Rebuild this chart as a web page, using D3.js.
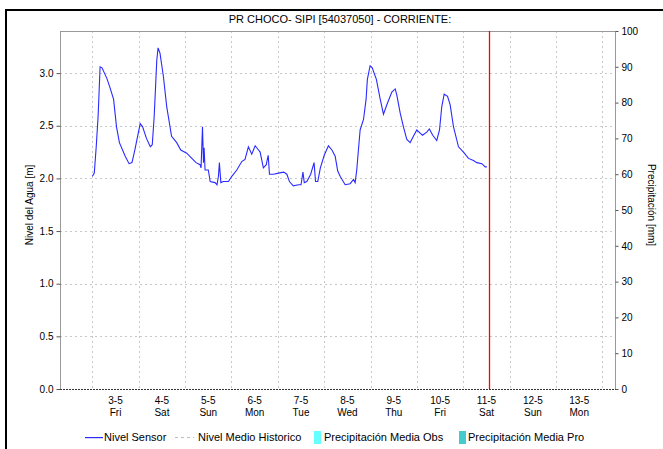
<!DOCTYPE html>
<html><head><meta charset="utf-8">
<script src="https://cdn.jsdelivr.net/npm/d3@7"></script>
<style>
body{margin:0;background:#fff;}
svg{display:block;font-family:"Liberation Sans",Arial,sans-serif;}
</style></head>
<body><svg id="c" width="663" height="449"></svg>
<script>
const title = "PR CHOCO- SIPI [54037050] - CORRIENTE:";
const times = ["2024-05-03 00:00","2024-05-03 01:00","2024-05-03 02:00","2024-05-03 03:00","2024-05-03 04:00","2024-05-03 05:00","2024-05-03 07:30","2024-05-03 09:00","2024-05-03 11:00","2024-05-03 12:30","2024-05-03 14:00","2024-05-03 17:00","2024-05-03 19:00","2024-05-03 20:30","2024-05-03 22:00",
"2024-05-04 00:45","2024-05-04 02:00","2024-05-04 04:00","2024-05-04 06:00","2024-05-04 07:00","2024-05-04 08:00","2024-05-04 09:20","2024-05-04 10:00","2024-05-04 11:00","2024-05-04 12:45","2024-05-04 14:30","2024-05-04 17:00","2024-05-04 19:40","2024-05-04 21:45",
"2024-05-05 00:50","2024-05-05 03:30","2024-05-05 05:40","2024-05-05 07:45","2024-05-05 08:15","2024-05-05 09:00","2024-05-05 09:30","2024-05-05 09:50","2024-05-05 10:20","2024-05-05 12:00","2024-05-05 13:00","2024-05-05 15:30","2024-05-05 16:30","2024-05-05 17:15","2024-05-05 17:45","2024-05-05 18:30","2024-05-05 19:50","2024-05-05 22:25",
"2024-05-06 00:10","2024-05-06 02:45","2024-05-06 05:20","2024-05-06 07:00","2024-05-06 08:45","2024-05-06 10:30","2024-05-06 12:15","2024-05-06 14:00","2024-05-06 14:50","2024-05-06 16:30","2024-05-06 18:00","2024-05-06 19:00","2024-05-06 19:40","2024-05-06 21:45",
"2024-05-07 00:20","2024-05-07 03:00","2024-05-07 04:40","2024-05-07 06:00","2024-05-07 08:00","2024-05-07 10:40","2024-05-07 12:00","2024-05-07 13:00","2024-05-07 13:40","2024-05-07 15:00","2024-05-07 17:00","2024-05-07 18:45","2024-05-07 19:30","2024-05-07 20:40","2024-05-07 22:00",
"2024-05-08 00:00","2024-05-08 02:10","2024-05-08 04:00","2024-05-08 05:40","2024-05-08 07:00","2024-05-08 08:15","2024-05-08 10:50","2024-05-08 13:25","2024-05-08 15:10","2024-05-08 16:00","2024-05-08 16:50","2024-05-08 18:35","2024-05-08 20:20","2024-05-08 21:40","2024-05-08 22:20","2024-05-08 23:45",
"2024-05-09 00:50","2024-05-09 03:00","2024-05-09 05:00","2024-05-09 06:40","2024-05-09 08:25","2024-05-09 11:00","2024-05-09 12:45","2024-05-09 13:35","2024-05-09 15:20","2024-05-09 17:00","2024-05-09 18:45","2024-05-09 20:30","2024-05-09 22:10","2024-05-09 23:55",
"2024-05-10 01:40","2024-05-10 02:50","2024-05-10 05:05","2024-05-10 06:25","2024-05-10 08:10","2024-05-10 10:15","2024-05-10 11:40","2024-05-10 12:50","2024-05-10 14:05","2024-05-10 15:50","2024-05-10 17:10","2024-05-10 18:55","2024-05-10 21:30",
"2024-05-11 00:05","2024-05-11 02:40","2024-05-11 05:15","2024-05-11 07:00","2024-05-11 09:35","2024-05-11 11:20","2024-05-11 12:10"];
const nivel = [2.02,2.05,2.30,2.60,3.06,3.05,2.95,2.87,2.75,2.49,2.34,2.21,2.14,2.15,2.27,
2.52,2.49,2.38,2.30,2.32,2.59,3.12,3.24,3.19,2.97,2.68,2.40,2.34,2.27,
2.24,2.19,2.15,2.13,2.10,2.49,2.15,2.29,2.08,2.08,1.97,1.96,1.94,2.02,2.15,1.96,1.97,1.97,
2.02,2.08,2.16,2.18,2.30,2.23,2.31,2.27,2.25,2.10,2.13,2.22,2.04,2.04,
2.05,2.06,2.04,1.97,1.93,1.94,1.94,2.06,1.96,1.97,2.04,2.15,1.97,1.97,2.10,
2.22,2.31,2.27,2.21,2.07,2.02,1.94,1.95,1.99,1.96,2.08,2.46,2.56,2.75,2.94,3.07,
3.05,2.94,2.75,2.61,2.70,2.82,2.85,2.79,2.62,2.49,2.37,2.34,2.40,2.46,
2.43,2.41,2.44,2.47,2.41,2.36,2.46,2.68,2.80,2.78,2.70,2.49,2.30,
2.25,2.19,2.17,2.15,2.14,2.11,2.11];
const nowMark = "2024-05-11 13:20";
const xDomain = ["2024-05-02 07:15","2024-05-14 06:30"];
const dayLabels = ["3-5","4-5","5-5","6-5","7-5","8-5","9-5","10-5","11-5","12-5","13-5"];
const dayNames = ["Fri","Sat","Sun","Mon","Tue","Wed","Thu","Fri","Sat","Sun","Mon"];
const dayNoons = ["2024-05-03 12:00","2024-05-04 12:00","2024-05-05 12:00","2024-05-06 12:00","2024-05-07 12:00","2024-05-08 12:00","2024-05-09 12:00","2024-05-10 12:00","2024-05-11 12:00","2024-05-12 12:00","2024-05-13 12:00"];
const leftTicks = [0,0.5,1.0,1.5,2.0,2.5,3.0];
const rightTicks = [0,10,20,30,40,50,60,70,80,90,100];
const legendItems = ["Nivel Sensor","Nivel Medio Historico","Precipitación Media Obs","Precipitación Media Pro"];

const parse = d3.timeParse("%Y-%m-%d %H:%M");
const svg = d3.select("#c");
const L=60,R=615,T=31,B=389;
const x = d3.scaleTime().domain(xDomain.map(parse)).range([L,R]);
const y = d3.scaleLinear().domain([0,3.4]).range([B,T]);
const y2 = d3.scaleLinear().domain([0,100]).range([B,T]);

// outer frame
svg.append("path").attr("d","M6,460 L6,10 L670,10").attr("fill","none").attr("stroke","#000").attr("stroke-width",2);

// title
svg.append("text").attr("x",340).attr("y",23).attr("text-anchor","middle").attr("font-size",11).text(title);

// grid
const gridColor="#c8c8c8";
svg.append("g").selectAll("line").data(leftTicks.filter(d=>d>0)).join("line")
 .attr("x1",L).attr("x2",R).attr("y1",d=>Math.round(y(d))+0.5).attr("y2",d=>Math.round(y(d))+0.5)
 .attr("stroke",gridColor).attr("stroke-dasharray","2,3");
const midnights = d3.timeDay.range(parse("2024-05-03 00:00"), parse("2024-05-14 06:00"));
svg.append("g").selectAll("line").data(midnights).join("line")
 .attr("x1",d=>Math.round(x(d))+0.5).attr("x2",d=>Math.round(x(d))+0.5).attr("y1",T).attr("y2",B)
 .attr("stroke",gridColor).attr("stroke-dasharray","2,3");

// frame lines
svg.append("line").attr("x1",L).attr("x2",R).attr("y1",T+0.5).attr("y2",T+0.5).attr("stroke","#999");
svg.append("line").attr("x1",L+0.5).attr("x2",L+0.5).attr("y1",T).attr("y2",B).attr("stroke","#999");
svg.append("line").attr("x1",R+0.5).attr("x2",R+0.5).attr("y1",T).attr("y2",B).attr("stroke","#999");
svg.append("line").attr("x1",L).attr("x2",R+1).attr("y1",B+0.5).attr("y2",B+0.5).attr("stroke","#333").attr("stroke-dasharray","2,1");

// left axis
const gl = svg.append("g").attr("transform",`translate(${L+0.5},0)`)
 .call(d3.axisLeft(y).tickValues(leftTicks).tickFormat(d3.format(".1f")).tickSize(4).tickPadding(3));
gl.select(".domain").remove();
gl.selectAll("line").attr("stroke","#555");
gl.selectAll("text").attr("font-size",10).attr("fill","#000").attr("font-family","Liberation Sans, Arial, sans-serif");

// right axis
const gr = svg.append("g").attr("transform",`translate(${R+0.5},0)`)
 .call(d3.axisRight(y2).tickValues(rightTicks).tickSize(3).tickPadding(3));
gr.select(".domain").remove();
gr.selectAll("line").attr("stroke","#555");
gr.selectAll("text").attr("font-size",10).attr("fill","#000").attr("font-family","Liberation Sans, Arial, sans-serif");

// x labels
const xl = svg.append("g");
dayNoons.forEach((t,i)=>{
  const px = x(parse(t));
  xl.append("text").attr("x",px).attr("y",404).attr("text-anchor","middle").attr("font-size",10).text(dayLabels[i]);
  xl.append("text").attr("x",px).attr("y",416).attr("text-anchor","middle").attr("font-size",10).text(dayNames[i]);
});

// axis titles
svg.append("text").attr("transform","translate(33,205) rotate(-90)").attr("text-anchor","middle").attr("font-size",10).text("Nivel del Agua [m]");
svg.append("text").attr("transform","translate(648,205) rotate(90)").attr("text-anchor","middle").attr("font-size",10).text("Precipitación [mm]");

// now marker
const nx = Math.round(x(parse(nowMark)));
svg.append("line").attr("x1",nx+0.5).attr("x2",nx+0.5).attr("y1",T).attr("y2",B)
 .attr("stroke","rgb(255,0,0)").attr("stroke-width",1.3);

// series
const data = times.map((t,i)=>({t:parse(t),v:nivel[i]}));
svg.append("path").datum(data)
 .attr("fill","none").attr("stroke","#2a2aff").attr("stroke-width",1.1)
 .attr("d",d3.line().x(d=>x(d.t)).y(d=>y(d.v)));

// legend
const lg = svg.append("g").attr("font-size",11);
const ly = 437;
lg.append("rect").attr("x",85).attr("y",ly).attr("width",18).attr("height",1.2).attr("fill","#2a2aff");
lg.append("text").attr("x",104).attr("y",ly+4).text(legendItems[0]);
lg.append("line").attr("x1",175).attr("x2",194).attr("y1",ly+0.5).attr("y2",ly+0.5).attr("stroke","#bbb").attr("stroke-dasharray","3,3");
lg.append("text").attr("x",198).attr("y",ly+4).text(legendItems[1]);
lg.append("rect").attr("x",314).attr("y",ly-6).attr("width",7).attr("height",13).attr("fill","#66ffff");
lg.append("text").attr("x",324).attr("y",ly+4).text(legendItems[2]);
lg.append("rect").attr("x",459).attr("y",ly-6).attr("width",7).attr("height",13).attr("fill","#44cccc");
lg.append("text").attr("x",468).attr("y",ly+4).text(legendItems[3]);
</script></body></html>
